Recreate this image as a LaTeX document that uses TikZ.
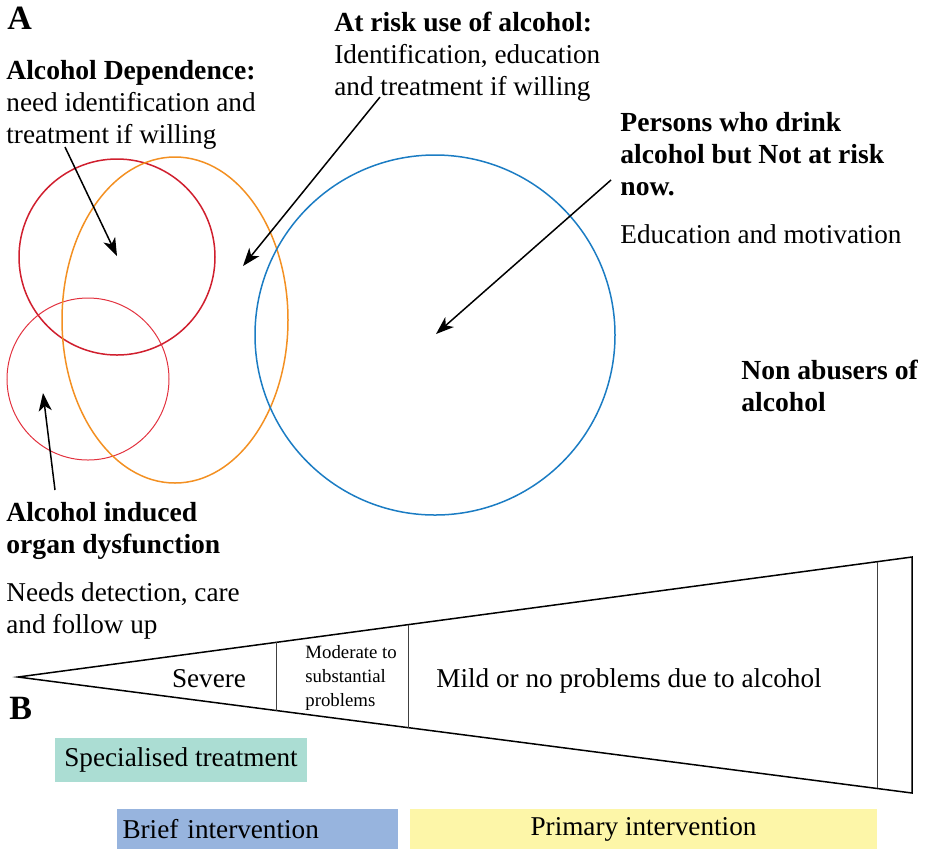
\documentclass[tikz,border=0pt]{standalone}
\usepackage{fontspec}
\setmainfont{Liberation Serif}
\usetikzlibrary{positioning}
\usetikzlibrary{shapes.geometric}
\usetikzlibrary{arrows.meta}
\definecolor{deprd}{HTML}{D01F2E}
\definecolor{orgrd}{HTML}{E2323F}
\definecolor{riskor}{HTML}{F39022}
\definecolor{drinkbl}{HTML}{1B7CC3}
\definecolor{spectl}{HTML}{ABDDD3}
\definecolor{briefbl}{HTML}{97B4DE}
\definecolor{primyl}{HTML}{FDF6A8}
\newcommand{\hdfont}{\fontsize{13.8}{16}\selectfont\bfseries}
\tikzset{lbl/.style={anchor=north west,inner sep=0pt,align=left,font=\fontsize{13.6}{16}\selectfont}}
\tikzset{big/.style={anchor=north west,inner sep=0pt,font=\fontsize{17}{17}\selectfont\bfseries}}
\tikzset{ring/.style={circle,line width=0.75pt,inner sep=0pt}}
\tikzset{band/.style={rectangle,inner sep=0pt,font=\fontsize{13.6}{16}\selectfont}}
\tikzset{>={Stealth[length=9pt,width=6.5pt,inset=2.5pt]}}

\begin{document}
\begin{tikzpicture}[x=0.5pt,y=-0.5pt]
\useasboundingbox (0,0) rectangle (925,848);

\node[big] at (7,7) (A) {A};
\node[big] at (9,697) (B) {B};

\node[ring,draw=deprd,minimum size=98pt] at (117,257) (dep) {};
\node[ring,draw=orgrd,line width=0.5pt,minimum size=81pt] at (88,379) (org) {};
\node[ellipse,draw=riskor,line width=0.75pt,inner sep=0pt,minimum width=113pt,minimum height=163pt] at (175,320) (risk) {};
\node[ring,draw=drinkbl,minimum size=180pt] at (435,335) (drink) {};

\node[lbl] at (6,60) (deptxt) {{\hdfont Alcohol Dependence:}\\need identification and\\treatment if willing};
\node[lbl] at (334,12) (risktxt) {{\hdfont At risk use of alcohol:}\\Identification, education\\and treatment if willing};
\node[lbl] at (620,112) (drinktxt) {\hdfont Persons who drink\\\hdfont alcohol but Not at risk\\\hdfont now.};
\node[lbl] at (620,224) (drinkedu) {Education and motivation};
\node[lbl] at (741,360) (nonab) {\hdfont Non abusers of\\\hdfont alcohol};
\node[lbl] at (6,502) (orgtxt) {\hdfont Alcohol induced\\\hdfont organ dysfunction};
\node[lbl] at (6,582) (orgcare) {Needs detection, care\\and follow up};

\coordinate (depfrom) at (65,147);
\coordinate (depto) at (117,256);
\coordinate (riskfrom) at (380,97);
\coordinate (riskto) at (243,266);
\coordinate (drinkfrom) at (611,180);
\coordinate (drinkto) at (436,334);
\coordinate (orgfrom) at (55,490);
\coordinate (orgto) at (43,393);

\draw[->,line width=0.75pt] (depfrom) -- (depto);
\draw[->,line width=0.75pt] (riskfrom) -- (riskto);
\draw[->,line width=0.75pt] (drinkfrom) -- (drinkto);
\draw[->,line width=0.75pt] (orgfrom) -- (orgto);

\coordinate (tip) at (18,677);
\coordinate (wtop) at (912,557);
\coordinate (wbot) at (912,793);
\draw[line width=0.75pt] (tip) -- (wtop) -- (wbot) -- cycle;
\draw[line width=0.5pt,black!75] (276,642) -- (276,711);
\draw[line width=0.5pt,black!75] (408,625) -- (408,728);
\draw[line width=0.5pt,black!75] (877,562) -- (877,788);

\node[band] at (209,679) (severe) {Severe};
\node[lbl,font=\fontsize{9.4}{12}\selectfont] at (305,645) (moder) {Moderate to\\substantial\\problems};
\node[band,anchor=west] at (436,681) (mild) {Mild or no problems due to alcohol};

\node[band,fill=spectl,minimum width=126pt,minimum height=22pt] at (181,760) (spec) {Specialised treatment};
\node[band,fill=briefbl,minimum width=140.5pt,minimum height=20pt,text width=135pt,align=left] at (257.5,829) (brief) {Brief intervention};
\node[band,fill=primyl,minimum width=233.5pt,minimum height=20pt] at (643.5,829) (prim) {Primary intervention};

\end{tikzpicture}
\end{document}
